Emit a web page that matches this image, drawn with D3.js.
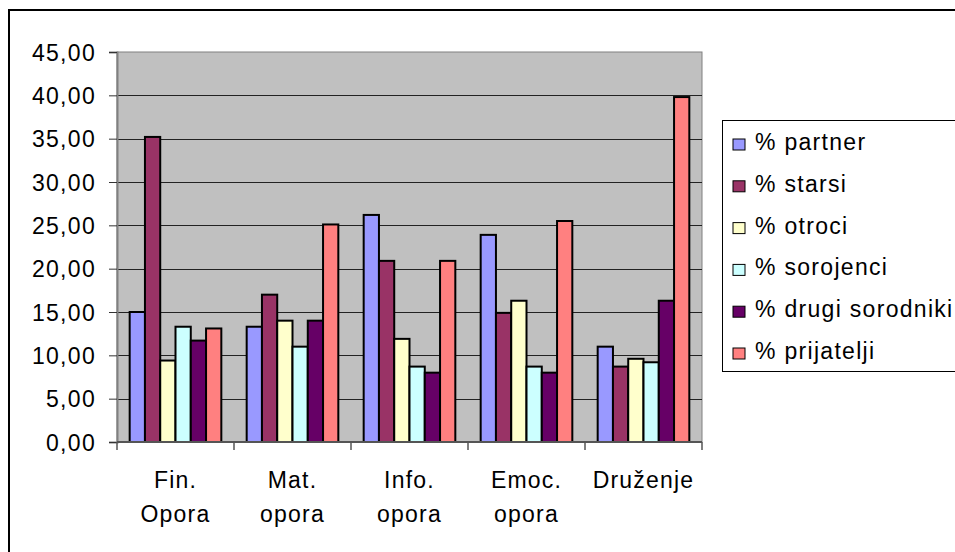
<!DOCTYPE html>
<html>
<head>
<meta charset="utf-8">
<script src="https://cdn.jsdelivr.net/npm/d3@7"></script>
<style>
  body { margin: 0; background: #fff; }
  svg text { font-family: "Liberation Sans", Arial, sans-serif; fill: #000; }
</style>
</head>
<body>
<svg id="chart"></svg>
<script>
const categories = [['Fin.', 'Opora'], ['Mat.', 'opora'], ['Info.', 'opora'], ['Emoc.', 'opora'], ['Druženje']];
const series = ['% partner', '% starsi', '% otroci', '% sorojenci', '% drugi sorodniki', '% prijatelji'];
const colors = ['#9999ff', '#993366', '#ffffcc', '#ccffff', '#660066', '#ff8080'];

const partner = [15.0, 13.3, 26.2, 23.9, 11.0];
const starsi = [35.2, 17.0, 20.9, 14.9, 8.7];
const otroci = [9.4, 14.0, 11.9, 16.3, 9.6];
const sorojenci = [13.3, 11.0, 8.7, 8.7, 9.2];
const drugiSorodniki = [11.7, 14.0, 8.0, 8.0, 16.3];
const prijatelji = [13.1, 25.1, 20.9, 25.5, 39.8];

const yTicks = [0, 5, 10, 15, 20, 25, 30, 35, 40, 45];

const values = [partner, starsi, otroci, sorojenci, drugiSorodniki, prijatelji];
const rows = categories.map((c, i) => ({
  key: i,
  label: c,
  vals: series.map((s, j) => ({ s: s, v: values[j][i] }))
}));

const w = 955;
const h = 552;
const svg = d3.select('#chart').attr('width', w).attr('height', h);

// outer frame (runs off the right and bottom of the picture)
svg.append('rect')
  .attr('x', 9).attr('y', 10)
  .attr('width', 960).attr('height', 560)
  .attr('fill', '#fff').attr('stroke', '#000').attr('stroke-width', 2);

const plotL = 117, plotR = 702, plotT = 52, plotB = 442;

const x0 = d3.scaleBand().domain(rows.map((d) => d.key)).range([plotL, plotR]).padding(0);
const x1 = d3.scaleBand().domain(series).range([0, x0.bandwidth()]).paddingInner(0).paddingOuter(0.83);
const y = d3.scaleLinear().domain([0, 45]).range([plotB, plotT]);

svg.append('rect')
  .attr('x', plotL).attr('y', plotT)
  .attr('width', plotR - plotL).attr('height', plotB - plotT)
  .attr('fill', '#c0c0c0').attr('stroke', '#808080').attr('stroke-width', 1);

// gridlines
svg.append('g')
  .selectAll('line')
  .data(yTicks.filter((t) => t > 0 && t < 45))
  .enter()
  .append('line')
  .attr('x1', plotL).attr('x2', plotR)
  .attr('y1', (d) => Math.round(y(d)) + 0.5).attr('y2', (d) => Math.round(y(d)) + 0.5)
  .attr('stroke', '#222').attr('stroke-width', 1);

// bars
svg.append('g')
  .selectAll('g')
  .data(rows)
  .enter()
  .append('g')
  .attr('transform', (d) => `translate(${x0(d.key)},0)`)
  .selectAll('rect')
  .data((d) => d.vals)
  .enter()
  .append('rect')
  .attr('x', (d) => x1(d.s))
  .attr('y', (d) => y(d.v))
  .attr('width', x1.bandwidth())
  .attr('height', (d) => y(0) - y(d.v))
  .attr('fill', (d, i) => colors[i])
  .attr('stroke', '#000')
  .attr('stroke-width', 2);

// y axis
const yAxis = d3.axisLeft(y).tickValues(yTicks).tickSize(8).tickPadding(13)
  .tickFormat((d) => d3.format('.2f')(d).replace('.', ','));
const gy = svg.append('g').attr('transform', `translate(${plotL},0)`).call(yAxis);
gy.select('.domain').attr('stroke', '#808080').attr('stroke-width', 2);
gy.selectAll('.tick line').attr('stroke', '#333');
gy.selectAll('.tick text')
  .attr('font-size', 23).attr('letter-spacing', 1.3)
  .attr('dy', 8).attr('font-family', '"Liberation Sans", Arial, sans-serif');

// x axis
const gx = svg.append('g').attr('transform', `translate(0,${plotB})`);
gx.append('line')
  .attr('x1', plotL).attr('x2', plotR).attr('y1', 0).attr('y2', 0)
  .attr('stroke', '#555').attr('stroke-width', 2);
gx.selectAll('.sep')
  .data(rows.map((d) => x0(d.key)).concat([plotR]))
  .enter()
  .append('line')
  .attr('x1', (d) => d).attr('x2', (d) => d)
  .attr('y1', 0).attr('y2', 8)
  .attr('stroke', '#555').attr('stroke-width', 1.5);

const lbl = gx.selectAll('.cat')
  .data(rows)
  .enter()
  .append('text')
  .attr('text-anchor', 'middle')
  .attr('font-size', 23)
  .attr('letter-spacing', 1.2)
  .attr('x', (d) => x0(d.key) + x0.bandwidth() / 2);
lbl.selectAll('tspan')
  .data((d) => d.label)
  .enter()
  .append('tspan')
  .attr('x', function () { return d3.select(this.parentNode).attr('x'); })
  .attr('y', (d, i) => 46 + i * 34)
  .text((d) => d);

// legend (box runs past the right edge)
const legend = svg.append('g');
legend.append('rect')
  .attr('x', 722.5).attr('y', 120.5)
  .attr('width', 260).attr('height', 251)
  .attr('fill', '#fff').attr('stroke', '#000').attr('stroke-width', 1);
const item = legend.selectAll('.item')
  .data(series)
  .enter()
  .append('g')
  .attr('transform', (d, i) => `translate(0,${150 + i * 41.8})`);
item.append('rect')
  .attr('x', 733).attr('y', -11)
  .attr('width', 12).attr('height', 11)
  .attr('fill', (d, i) => colors[i])
  .attr('stroke', '#000').attr('stroke-width', 1);
item.append('text')
  .attr('x', 755).attr('y', 0)
  .attr('font-size', 23).attr('letter-spacing', 1.3)
  .text((d) => d);
</script>
</body>
</html>
